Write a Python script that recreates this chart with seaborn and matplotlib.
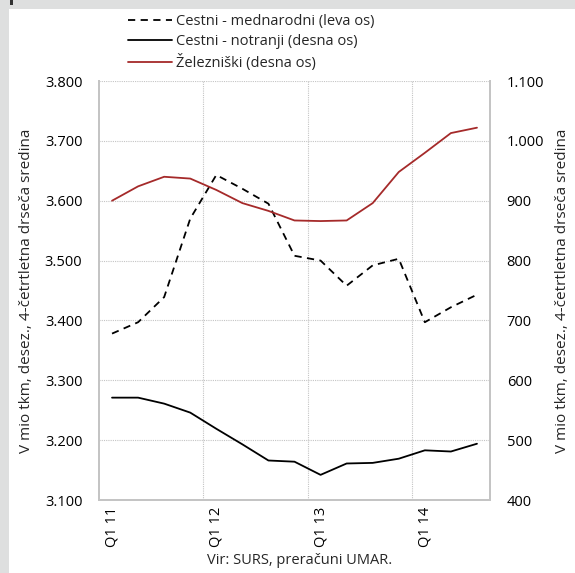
import numpy as np
import pandas as pd
import matplotlib
matplotlib.use("Agg")
import matplotlib.pyplot as plt
from matplotlib.ticker import FuncFormatter, FixedLocator
from matplotlib.lines import Line2D
from matplotlib.patches import Rectangle
import seaborn as sns

quarters = ["Q1 11", "Q2 11", "Q3 11", "Q4 11",
            "Q1 12", "Q2 12", "Q3 12", "Q4 12",
            "Q1 13", "Q2 13", "Q3 13", "Q4 13",
            "Q1 14", "Q2 14", "Q3 14"]
tick_labels = ["Q1 11", "Q1 12", "Q1 13", "Q1 14"]
cestni_mednarodni = [3378, 3397, 3439, 3570, 3643, 3620, 3595, 3508,
                     3500, 3458, 3492, 3503, 3397, 3422, 3443]
cestni_notranji = [571, 571, 561, 546, 519, 493, 466, 464,
                   442, 461, 462, 469, 483, 481, 494]
zelezniski = [900, 924, 940, 937, 918, 896, 883, 867,
              866, 867, 896, 948, 980, 1013, 1022]

name_m = "Cestni - mednarodni (leva os)"
name_n = "Cestni - notranji (desna os)"
name_z = "Železniški (desna os)"

sns.set_theme(style="white")
plt.rcParams["font.family"] = ["Open Sans", "DejaVu Sans"]

df_left = pd.DataFrame({"idx": np.arange(len(quarters)), "val": cestni_mednarodni})
df_right = pd.DataFrame({
    "idx": np.tile(np.arange(len(quarters)), 2),
    "val": cestni_notranji + zelezniski,
    "serija": [name_n] * len(quarters) + [name_z] * len(quarters),
})

fig = plt.figure(figsize=(5.75, 5.73), dpi=100)
fig.patch.set_facecolor("white")
# grey frame strips
fig.add_artist(Rectangle((0, 0), 9 / 575, 1, transform=fig.transFigure,
                         facecolor="#dedfdf", edgecolor="none", zorder=0))
fig.add_artist(Rectangle((0, 1 - 9 / 573), 1, 9 / 573, transform=fig.transFigure,
                         facecolor="#dedfdf", edgecolor="none", zorder=0))
fig.add_artist(Rectangle((10 / 575, 1 - 5 / 573), 3 / 575, 5 / 573, transform=fig.transFigure,
                         facecolor="#333333", edgecolor="none", zorder=1))

ax = fig.add_axes([99 / 575, 73 / 573, 391 / 575, 419 / 573])
ax2 = ax.twinx()

sns.lineplot(data=df_left, x="idx", y="val", ax=ax, color="black",
             linewidth=1.3, dashes=False, legend=False)
ax.lines[0].set_dashes((4, 3))

sns.lineplot(data=df_right, x="idx", y="val", hue="serija", ax=ax2,
             palette={name_n: "black", name_z: "#a52a2a"},
             linewidth=1.3, legend=False)

ax.set_xlim(-0.5, len(quarters) - 0.5)
ax.set_ylim(3100, 3800)
ax2.set_ylim(400, 1100)
ax.set_yticks(np.arange(3100, 3801, 100))
ax2.set_yticks(np.arange(400, 1101, 100))

fmt = FuncFormatter(lambda v, p: f"{int(v):,}".replace(",", "."))
ax.yaxis.set_major_formatter(fmt)
ax2.yaxis.set_major_formatter(fmt)

ax.xaxis.set_major_locator(FixedLocator([quarters.index(t) for t in tick_labels]))
ax.set_xticklabels(tick_labels, rotation=90)
ax.xaxis.set_minor_locator(FixedLocator([3.5, 7.5, 11.5]))

ax.grid(False)
ax2.grid(False)
ax.yaxis.grid(True, which="major", color="#c4c4c4", linestyle=(0, (1, 1)), linewidth=0.8)
ax.xaxis.grid(True, which="minor", color="#c4c4c4", linestyle=(0, (1, 1)), linewidth=0.8)
ax.set_axisbelow(True)

for a in (ax, ax2):
    for s in ("left", "right", "bottom"):
        a.spines[s].set_color("#c4c4c4")
        a.spines[s].set_linewidth(1.4)
    a.spines["top"].set_visible(False)
    a.tick_params(length=0, labelsize=10.5, colors="black", pad=12)
    a.set_xlabel("")

ylab = "V mio tkm, desez., 4-četrtletna drseča sredina"
ax.set_ylabel(ylab, fontsize=11, labelpad=8)
ax2.set_ylabel(ylab, fontsize=11, labelpad=8, rotation=90)
ax2.yaxis.set_label_position("right")
ax.tick_params(axis="x", pad=5, labelsize=10.5)

fig.text(300 / 575, 1 - 561 / 573, "Vir: SURS, preračuni UMAR.", ha="center",
         va="center", fontsize=10.5)

handles = [Line2D([], [], color="black", linewidth=1.3, dashes=(4, 3)),
           Line2D([], [], color="black", linewidth=1.3),
           Line2D([], [], color="#a52a2a", linewidth=1.3)]
fig.legend(handles, [name_m, name_n, name_z], loc="upper left",
           bbox_to_anchor=(122 / 575, 1 - 8 / 573), frameon=False,
           fontsize=10.5, handlelength=3.0, handletextpad=0.3, labelspacing=0.35,
           borderaxespad=0)

fig.savefig("out.png", dpi=100)
